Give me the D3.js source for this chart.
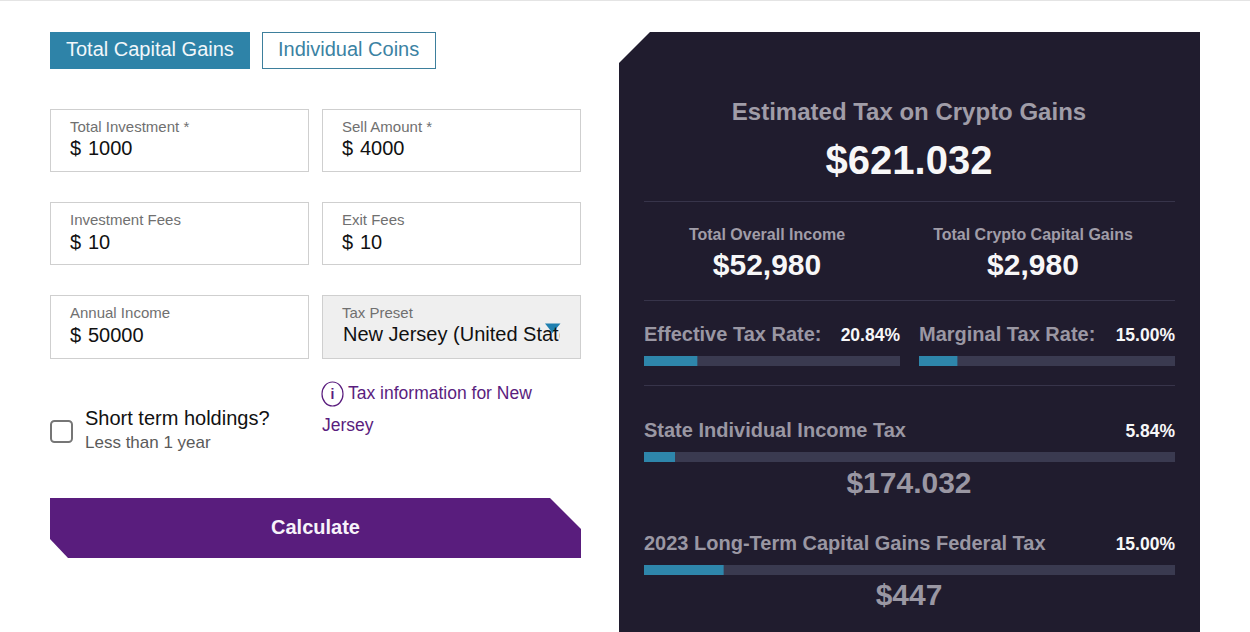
<!DOCTYPE html>
<html>
<head>
<meta charset="utf-8">
<script src="https://cdn.jsdelivr.net/npm/d3@7"></script>
<style>
html, body { margin: 0; padding: 0; background: #fff; overflow: hidden; }
svg { display: block; }
text { font-family: "Liberation Sans", Arial, sans-serif; }
</style>
</head>
<body>
<div id="calc"></div>
<script>
// values
var tabLabels = ["Total Capital Gains", "Individual Coins"];
var fieldLabels = ["Total Investment *", "Sell Amount *", "Investment Fees", "Exit Fees", "Annual Income", "Tax Preset"];
var fieldValues = ["1000", "4000", "10", "10", "50000", "New Jersey (United States)"];
var summaryLabels = ["Total Overall Income", "Total Crypto Capital Gains"];
var summaryValues = ["$52,980", "$2,980"];
var rateLabels = ["Effective Tax Rate:", "Marginal Tax Rate:"];
var rateValues = [20.84, 15.00];
var taxLabels = ["State Individual Income Tax", "2023 Long-Term Capital Gains Federal Tax"];
var taxRates = [5.84, 15.00];
var taxAmounts = ["$174.032", "$447"];

var svg = d3.select("#calc").append("svg").attr("width", 1250).attr("height", 632);
var pct = function (d) { return d.toFixed(2) + "%"; };

function label(x, y, str, size, color, weight, anchor) {
    return svg.append("text").attr("x", x).attr("y", y).text(str)
        .attr("font-size", size).attr("fill", color)
        .attr("font-weight", weight || "normal")
        .attr("text-anchor", anchor || "start");
}

svg.append("rect").attr("width", 1250).attr("height", 1).attr("fill", "#e4e4e4");

/* tabs */
svg.append("rect").attr("x", 50).attr("y", 32).attr("width", 200).attr("height", 37).attr("fill", "#2e83a8");
svg.append("rect").attr("x", 262.5).attr("y", 32.5).attr("width", 173).attr("height", 36)
    .attr("fill", "#fff").attr("stroke", "#3d7f9c");
label(66, 56, tabLabels[0], 20, "#f2f7fa");
label(278, 56, tabLabels[1], 20, "#3b82a3");

/* input fields */
var colX = d3.scaleOrdinal().domain([0, 1]).range([50.5, 322.5]);
var rowY = d3.scaleOrdinal().domain([0, 1, 2]).range([109.5, 202.5, 295.5]);

svg.append("defs").append("clipPath").attr("id", "presetClip")
    .append("rect").attr("x", 340).attr("y", 315).attr("width", 219.5).attr("height", 35);

var field = svg.selectAll(".field").data(fieldLabels).enter().append("g")
    .attr("class", "field")
    .attr("transform", function (d, i) {
        return "translate(" + colX(i % 2) + "," + rowY(Math.floor(i / 2)) + ")";
    });
field.append("rect").attr("width", 258).attr("height", function (d, i) { return i < 4 ? 62 : 63; })
    .attr("fill", function (d, i) { return i == 5 ? "#efefef" : "#fff"; })
    .attr("stroke", "#cfcfcf");
field.append("text").attr("x", 19.5).attr("y", 22.5).text(function (d) { return d; })
    .attr("font-size", 15).attr("fill", "#707070");

/* dropdown arrow sits under the preset text */
svg.append("path").attr("d", "M545,323.5H560.5L552.5,333Z").attr("fill", "#1f80b0");

var valueY = [45.5, 46.5, 46.5];
var amounts = field.filter(function (d, i) { return i < 5; });
amounts.append("text").attr("x", 19.5)
    .attr("y", function (d, i) { return valueY[Math.floor(i / 2)]; })
    .text("$").attr("font-size", 20).attr("fill", "#111");
amounts.append("text").attr("x", 37.5)
    .attr("y", function (d, i) { return valueY[Math.floor(i / 2)]; })
    .text(function (d, i) { return fieldValues[i]; })
    .attr("font-size", 20).attr("fill", "#111");

label(343, 341, fieldValues[5], 20, "#111").attr("clip-path", "url(#presetClip)");

/* tax information link */
svg.append("ellipse").attr("cx", 332.5).attr("cy", 394).attr("rx", 10.5).attr("ry", 12)
    .attr("fill", "#fff").attr("stroke", "#5a1d7e").attr("stroke-width", 1.2);
label(332.5, 399, "i", 14, "#5a1d7e", "bold", "middle");
label(348, 399, "Tax information for New", 17.5, "#5a1d7e");
label(322, 431, "Jersey", 17.5, "#5a1d7e");

/* checkbox */
svg.append("rect").attr("x", 51).attr("y", 421).attr("width", 21).attr("height", 21).attr("rx", 3.5)
    .attr("fill", "#fff").attr("stroke", "#767676").attr("stroke-width", 2);
label(85, 425, "Short term holdings?", 20, "#111");
label(85, 448, "Less than 1 year", 17, "#5a5a5a");

/* calculate button */
svg.append("path").attr("d", "M50,498H550L581,529V558H68L50,539Z").attr("fill", "#591d7d");
label(315.5, 534, "Calculate", 20, "#f7f3fa", "bold", "middle");

/* result panel */
svg.append("path").attr("d", "M650,32H1200V632H619V63Z").attr("fill", "#201c2e");
label(909, 120, "Estimated Tax on Crypto Gains", 24, "#a09da8", "bold", "middle");
label(909, 174, "$621.032", 40, "#f7f7f8", "bold", "middle");

var rules = [201.5, 300.5, 385.5];
svg.selectAll(".rule").data(rules).enter().append("line")
    .attr("class", "rule").attr("x1", 644).attr("x2", 1175)
    .attr("y1", function (d) { return d; }).attr("y2", function (d) { return d; })
    .attr("stroke", "#37344a");

var summaryX = [767, 1033];
summaryLabels.forEach(function (d, i) {
    label(summaryX[i], 240, d, 16, "#a09da8", "bold", "middle");
    label(summaryX[i], 275, summaryValues[i], 30, "#f7f7f8", "bold", "middle");
});

var shortBar = d3.scaleLinear().domain([0, 100]).range([0, 256]);
var longBar = d3.scaleLinear().domain([0, 100]).range([0, 531]);

function bar(x, y, value, scale) {
    svg.append("rect").attr("x", x).attr("y", y).attr("width", scale(100)).attr("height", 10).attr("fill", "#3a3a50");
    svg.append("rect").attr("x", x).attr("y", y).attr("width", scale(value)).attr("height", 10).attr("fill", "#2e86ab");
}

var rateX = [644, 919];
rateLabels.forEach(function (d, i) {
    label(rateX[i], 341, d, 20, "#9a97a3", "bold");
    label(rateX[i] + 256, 341, pct(rateValues[i]), 17.5, "#f7f7f8", "bold", "end");
    bar(rateX[i], 356, rateValues[i], shortBar);
});

var taxTextY = [437, 550];
var amountY = [493, 605];
taxLabels.forEach(function (d, i) {
    label(644, taxTextY[i], d, 20, "#9a97a3", "bold");
    label(1175, taxTextY[i], pct(taxRates[i]), 17.5, "#f7f7f8", "bold", "end");
    bar(644, taxTextY[i] + 15, taxRates[i], longBar);
    label(909, amountY[i], taxAmounts[i], 30, "#9a97a3", "bold", "middle");
});
</script>
</body>
</html>
